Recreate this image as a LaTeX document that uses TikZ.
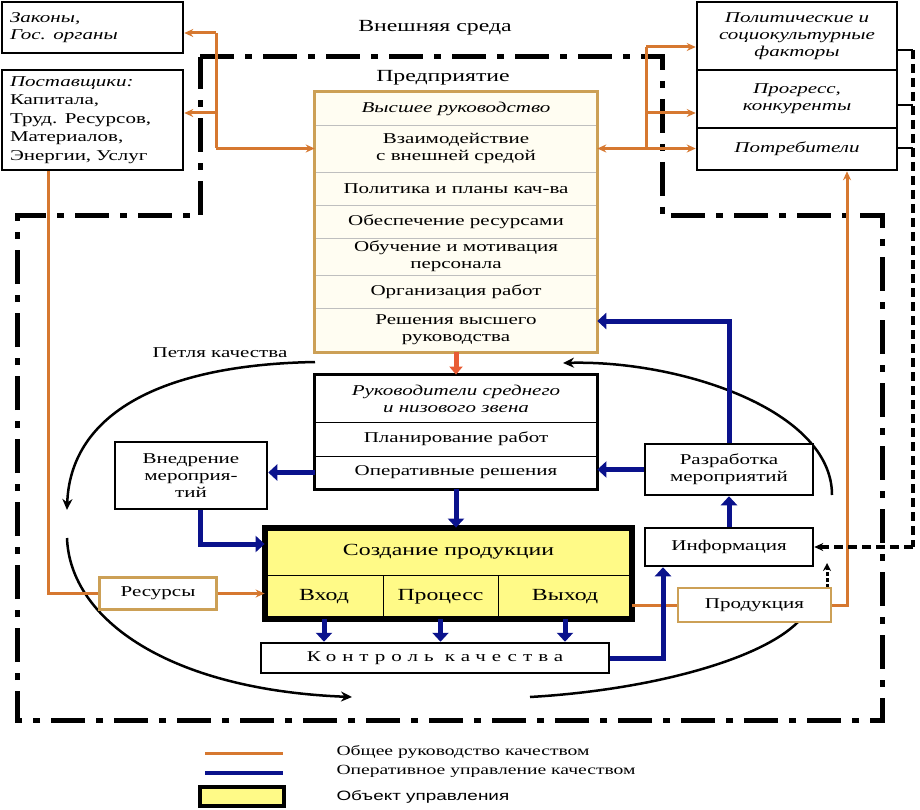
\documentclass[tikz,border=0pt]{standalone}
\usepackage{fontspec}
\setmainfont{Liberation Serif}[FakeStretch=1.4]
\newfontfamily\legsans{Liberation Sans}[FakeStretch=1.4]
\usetikzlibrary{arrows.meta}
\definecolor{orl}{RGB}{214,120,48}
\definecolor{tanb}{RGB}{204,160,86}
\definecolor{navyb}{RGB}{10,18,140}
\definecolor{redo}{RGB}{232,92,52}
\definecolor{yel}{RGB}{255,250,135}
\definecolor{cream}{RGB}{255,253,242}
\begin{document}
\begin{tikzpicture}[x=1pt,y=-1pt,>={Stealth[length=9pt,width=8pt]},font=\fontsize{15}{17}\selectfont,
 ext/.style={draw,line width=2.5,fill=white,inner sep=3},
 frow/.style={draw=gray!50,line width=0.6,fill=cream,minimum width=282,align=center,inner sep=1},
 brow/.style={draw,line width=0.8,fill=white,minimum width=282,align=center,inner sep=1},
 bbox/.style={draw,line width=2.5,fill=white,align=center,inner sep=2},
 tbox/.style={draw=tanb,line width=2.5,fill=white,align=center},
 ycell/.style={draw,line width=0.8,fill=yel,align=center,inner sep=1,font=\fontsize{17}{20}\selectfont},
 oline/.style={draw=orl,line width=3},
 bline/.style={draw=navyb,line width=5,-{Triangle[length=9pt,width=16pt]}},
 qloop/.style={line width=2.5,-{Stealth[length=11pt,width=10pt]}},
 envline/.style={line width=5,dash pattern=on 34pt off 11pt on 7pt off 11pt}]
\useasboundingbox (0,0) rectangle (920,810);
%Граница предприятия
\draw[envline] (200,57) -- (662,57) -- (662,216) -- (882,216) -- (882,720) -- (17,720) -- (17,216) -- (200,216) -- cycle;
%Петля качества
\coordinate (a1s) at (315,362); \coordinate (a1e) at (67,510);
\coordinate (a2s) at (67,538); \coordinate (a2e) at (352,697);
\coordinate (a3s) at (530,697); \coordinate (a3e) at (798,622);
\coordinate (a4s) at (827,588); \coordinate (a4e) at (827,563);
\coordinate (a5s) at (832,495); \coordinate (a5e) at (563,363);
\draw[qloop] (a1s) .. controls (150,365) and (70,420) .. (a1e);
\draw[qloop] (a2s) .. controls (70,620) and (170,690) .. (a2e);
\draw[line width=2.5] (a3s) .. controls (650,690) and (760,660) .. (a3e);
\draw[line width=3,dash pattern=on 4pt off 2pt,-{Stealth[length=8pt,width=8pt]}] (a4s) -- (a4e);
\draw[qloop] (a5s) .. controls (832,410) and (680,360) .. (a5e);
\node (petlya) at (220,353) {Петля качества};
%Внешняя среда
\node (sreda) [font=\fontsize{17}{20}\selectfont] at (435,28) {Внешняя среда};
\node (zak) [ext,minimum width=181,minimum height=51,text width=165,align=left] at (92.5,27.5) {\textit{Законы,}\\\textit{Гос. органы}};
\node (post) [ext,minimum width=181,minimum height=100,text width=165,align=left,font=\fontsize{15}{18.5}\selectfont] at (92.5,120) {\textit{Поставщики:}\\Капитала,\\Труд. Ресурсов,\\Материалов,\\Энергии, Услуг};
\node (pol) [ext,minimum width=200,minimum height=68,align=center] at (797,36) {\textit{Политические и}\\\textit{социокультурные}\\\textit{факторы}};
\node (prog) [ext,minimum width=200,minimum height=58,align=center] at (797,99) {\textit{Прогресс,}\\\textit{конкуренты}};
\node (potr) [ext,minimum width=200,minimum height=42] at (797,149) {\textit{Потребители}};
%Предприятие
\node (pred) [font=\fontsize{17}{20}\selectfont] at (443,78) {Предприятие};
\node (e1) [frow,minimum height=33] at (456,108.5) {\textit{Высшее руководство}};
\node (e2) [frow,minimum height=47] at (456,148.5) {Взаимодействие\\с внешней средой};
\node (e3) [frow,minimum height=33] at (456,188.5) {Политика и планы кач-ва};
\node (e4) [frow,minimum height=33] at (456,221.5) {Обеспечение ресурсами};
\node (e5) [frow,minimum height=37] at (456,256.5) {Обучение и мотивация\\персонала};
\node (e6) [frow,minimum height=33] at (456,291.5) {Организация работ};
\node (e7) [frow,minimum height=44] at (456,330) {Решения высшего\\руководства};
\draw[tanb,line width=2.5] (e1.north west) rectangle (e7.south east);
%Руководители
\node (r1) [brow,minimum height=47] at (456,398.5) {\textit{Руководители среднего}\\\textit{и низового звена}};
\node (r2) [brow,minimum height=34] at (456,439) {Планирование работ};
\node (r3) [brow,minimum height=33] at (456,472.5) {Оперативные решения};
\draw[line width=2.5] (r1.north west) rectangle (r3.south east);
%Создание продукции
\node (s0) [ycell,minimum width=367,minimum height=47] at (448.5,551.5) {Создание продукции};
\node (s1) [ycell,minimum width=118,minimum height=44] at (324,597) {Вход};
\node (s2) [ycell,minimum width=115,minimum height=44] at (440.5,597) {Процесс};
\node (s3) [ycell,minimum width=134,minimum height=44] at (565,597) {Выход};
\draw[line width=6] (s0.north west) rectangle (s3.south east);
\node (kon) [bbox,minimum width=348,minimum height=30] at (435,658) {\addfontfeature{LetterSpace=40}Контроль качества};
%Прочие блоки
\node (vnedr) [bbox,minimum width=152,minimum height=67] at (191,475.5) {Внедрение\\мероприя-\\тий};
\node (razr) [bbox,minimum width=168,minimum height=51] at (729,469.5) {Разработка\\мероприятий};
\node (info) [bbox,minimum width=168,minimum height=38] at (729,547) {Информация};
\node (res) [tbox,minimum width=117,minimum height=32] at (158,593.5) {Ресурсы};
\node (prod) [tbox,minimum width=153,minimum height=34] at (754.5,605) {Продукция};
%Оранжевые стрелки
\coordinate (lo1) at (216,33); \coordinate (lo2) at (216,113); \coordinate (lo3) at (216,148.5);
\draw[oline] (lo1) -- (lo3);
\draw[oline,->] (lo1) -- (lo1 -| zak.east);
\draw[oline,->] (lo2) -- (lo2 -| post.east);
\draw[oline,->] (lo3) -- (e2.west);
\coordinate (ro1) at (646,47); \coordinate (ro2) at (646,113);
\draw[oline] (ro1) -- (ro1 |- e2.east);
\draw[oline,<->] (e2.east) -- (e2.east -| potr.west);
\draw[oline,->] (ro1) -- (ro1 -| pol.west);
\draw[oline,->] (ro2) -- (ro2 -| prog.west);
\draw[redo,line width=5,-{Triangle[length=8pt,width=13pt]}] (e7.south) -- (r1.north);
\coordinate (pl) at (48,593.5);
\draw[oline] (post.south -| pl) -- (pl) -- (res.west);
\draw[oline,->] (res.east) -- (res.east -| s1.west);
\coordinate (pr) at (847,605);
\draw[oline] (prod.west -| s3.east) -- (prod.west);
\draw[oline,->] (prod.east) -- (pr) -- (pr |- potr.south);
%Синие стрелки
\draw[bline] (r3.south) -- (r3.south |- s0.north);
\draw[bline] (r3.west) -- (r3.west -| vnedr.east);
\coordinate (bv) at (200,544);
\draw[bline] (vnedr.south -| bv) -- (bv) -- (bv -| s0.west);
\draw[bline] (s1.south) -- (s1.south |- kon.north);
\draw[bline] (s2.south) -- (s2.south |- kon.north);
\draw[bline] (s3.south) -- (s3.south |- kon.north);
\coordinate (bk) at (663,658);
\draw[bline] (kon.east) -- (bk) -- (bk |- info.south);
\draw[bline] (info.north) -- (razr.south);
\draw[bline] (razr.west) -- (razr.west -| r3.east);
\coordinate (bt) at (729,321);
\draw[bline] (razr.north) -- (bt) -- (bt -| e7.east);
%Пунктир справа
\coordinate (d1) at (913,50); \coordinate (d2) at (913,105); \coordinate (d3) at (913,148); \coordinate (d4) at (913,547);
\draw[line width=1.5] (d1 -| pol.east) -- (d1);
\draw[line width=1.5] (d2 -| prog.east) -- (d2);
\draw[line width=1.5] (d3 -| potr.east) -- (d3);
\draw[line width=4,dash pattern=on 9pt off 5pt] (d1) -- (d4);
\draw[line width=4,dash pattern=on 9pt off 5pt,->] (d4) -- (info.east);
%Легенда
\draw[orl,line width=3] (205,753) -- (283,753);
\draw[navyb,line width=4] (205,773) -- (283,773);
\draw[line width=4,fill=yel] (200,787) rectangle (284,806);
\node (l1) [anchor=west,font=\fontsize{14}{16}\selectfont] at (333,752) {Общее руководство качеством};
\node (l2) [anchor=west,font=\fontsize{14}{16}\selectfont] at (333,771) {Оперативное управление качеством};
\node (l3) [anchor=west,font=\legsans\fontsize{13.5}{16}\selectfont] at (333,797) {Объект управления};
\end{tikzpicture}
\end{document}
